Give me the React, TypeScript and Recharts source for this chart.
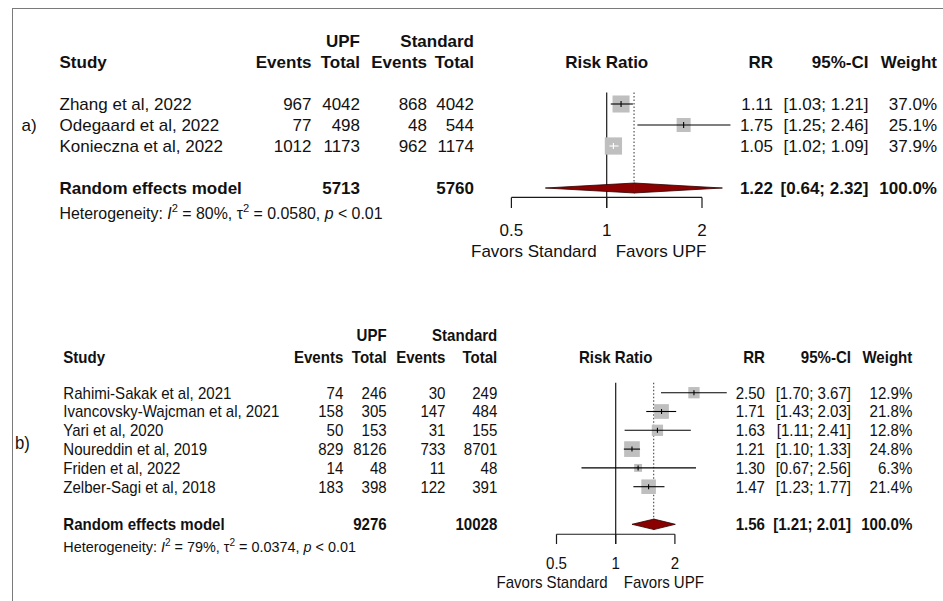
import React from "react";
import { ScatterChart, Scatter, XAxis, YAxis, ReferenceLine, ReferenceDot } from "recharts";

const FONT = "'Liberation Sans', Arial, Helvetica, sans-serif";
const INK = "#111";

// ---------- Panel a data ----------
const studiesA = ["Zhang et al, 2022", "Odegaard et al, 2022", "Konieczna et al, 2022"];
const upfEventsA = [967, 77, 1012];
const upfTotalA = [4042, 498, 1173];
const stdEventsA = [868, 48, 962];
const stdTotalA = [4042, 544, 1174];
const rrA = [1.11, 1.75, 1.05];
const lowerA = [1.03, 1.25, 1.02];
const upperA = [1.21, 2.46, 1.09];
const weightA = [37.0, 25.1, 37.9];
const summaryA = [1.22, 0.64, 2.32]; // RR, lower, upper
const totalsA = [5713, 5760];
const hetA = ["80%", "0.0580", "< 0.01"]; // I2, tau2, p

// ---------- Panel b data ----------
const studiesB = [
  "Rahimi-Sakak et al, 2021",
  "Ivancovsky-Wajcman et al, 2021",
  "Yari et al, 2020",
  "Noureddin et al, 2019",
  "Friden et al, 2022",
  "Zelber-Sagi et al, 2018",
];
const upfEventsB = [74, 158, 50, 829, 14, 183];
const upfTotalB = [246, 305, 153, 8126, 48, 398];
const stdEventsB = [30, 147, 31, 733, 11, 122];
const stdTotalB = [249, 484, 155, 8701, 48, 391];
const rrB = [2.5, 1.71, 1.63, 1.21, 1.3, 1.47];
const lowerB = [1.7, 1.43, 1.11, 1.1, 0.67, 1.23];
const upperB = [3.67, 2.03, 2.41, 1.33, 2.56, 1.77];
const weightB = [12.9, 21.8, 12.8, 24.8, 6.3, 21.4];
const summaryB = [1.56, 1.21, 2.01];
const totalsB = [9276, 10028];
const hetB = ["79%", "0.0374", "< 0.01"];

// ---------- axis ----------
const axisTicks = [0.5, 1, 2];
const tickLabels = ["0.5", "1", "2"];
const favorLabels = ["Favors Standard", "Favors UPF"];
const xDomain = [0.25, 4];

const PANEL_A = {
  tag: "a)",
  studies: studiesA, upfEvents: upfEventsA, upfTotal: upfTotalA, stdEvents: stdEventsA, stdTotal: stdTotalA,
  rr: rrA, lower: lowerA, upper: upperA, weight: weightA, summary: summaryA, totals: totalsA, het: hetA,
  layout: {
    top: 0, height: 300,
    margin: { top: 20, right: 145.7, bottom: 28, left: 416.1 },
    yDomain: [-4, 8],
    fs: 17, hetFs: 15.9, tagFs: 17, sx: 1,
    cols: { tag: 21.5, study: 59.5, upfEv: 311.5, upfTot: 360, stdEv: 427, stdTot: 474, rr: 773, ci: 868.5, wt: 937 },
    rows: { upf: -3, head: -2, summary: 4, het: 5.2, tag: 1, vTop: -0.55, axis: 4.45, tickEnd: 4.95, tickLab: 6.0, favor: 7.0 },
    boxK: 2.8, diamondH: 5, tickH: 6, favorGap: [10, 9],
  },
};

const PANEL_B = {
  tag: "b)",
  studies: studiesB, upfEvents: upfEventsB, upfTotal: upfTotalB, stdEvents: stdEventsB, stdTotal: stdTotalB,
  rr: rrB, lower: lowerB, upper: upperB, weight: weightB, summary: summaryB, totals: totalsB, het: hetB,
  layout: {
    top: 300, height: 301,
    margin: { top: 17.5, right: 208.9, bottom: 1.5, left: 497.3 },
    yDomain: [-4, 11],
    fs: 16.2, hetFs: 15.5, tagFs: 18, sx: 0.93,
    cols: { tag: 15, study: 63.3, upfEv: 343.3, upfTot: 386.7, stdEv: 445.5, stdTot: 497.3, rr: 765, ci: 851, wt: 912.3 },
    rows: { upf: -3.07, head: -1.91, summary: 7, het: 8.19, tag: 2.65, vTop: -0.53, axis: 7.53, tickEnd: 8.05, tickLab: 9.06, favor: 10.07 },
    boxK: 3.15, diamondH: 5.3, tickH: 5, favorGap: [8, 8],
  },
};

const ci = (lo: number, hi: number) => `[${lo.toFixed(2)}; ${hi.toFixed(2)}]`;

type Cell = { t: string; col: string; anchor: "start" | "end" | "middle"; bold?: boolean };

function Txt(props: any) {
  const { x, y, fs, sx, anchor = "start", bold = false, children } = props;
  return (
    <text
      x={x}
      y={y}
      fontSize={fs}
      fontFamily={FONT}
      fill={INK}
      textAnchor={anchor}
      fontWeight={bold ? "bold" : "normal"}
      transform={sx !== 1 ? `translate(${x},0) scale(${sx},1) translate(${-x},0)` : undefined}
    >
      {children}
    </text>
  );
}

function buildRows(S: any) {
  const L = S.layout;
  const c = (t: string, col: string, anchor: "start" | "end" | "middle", bold = false): Cell => ({ t, col, anchor, bold });
  const rows: any[] = [];
  rows.push({ x: 1, y: L.rows.upf, cells: [c("UPF", "upfTot", "end", true), c("Standard", "stdTot", "end", true)] });
  rows.push({
    x: 1, y: L.rows.head,
    cells: [
      c("Study", "study", "start", true), c("Events", "upfEv", "end", true), c("Total", "upfTot", "end", true),
      c("Events", "stdEv", "end", true), c("Total", "stdTot", "end", true), c("Risk Ratio", "center", "middle", true),
      c("RR", "rr", "end", true), c("95%-CI", "ci", "end", true), c("Weight", "wt", "end", true),
    ],
  });
  S.studies.forEach((name: string, i: number) => {
    rows.push({
      x: 1, y: i,
      cells: [
        c(name, "study", "start"), c(String(S.upfEvents[i]), "upfEv", "end"), c(String(S.upfTotal[i]), "upfTot", "end"),
        c(String(S.stdEvents[i]), "stdEv", "end"), c(String(S.stdTotal[i]), "stdTot", "end"),
        c(S.rr[i].toFixed(2), "rr", "end"), c(ci(S.lower[i], S.upper[i]), "ci", "end"), c(`${S.weight[i].toFixed(1)}%`, "wt", "end"),
      ],
    });
  });
  rows.push({
    x: 1, y: L.rows.summary,
    cells: [
      c("Random effects model", "study", "start", true), c(String(S.totals[0]), "upfTot", "end", true), c(String(S.totals[1]), "stdTot", "end", true),
      c(S.summary[0].toFixed(2), "rr", "end", true), c(ci(S.summary[1], S.summary[2]), "ci", "end", true), c("100.0%", "wt", "end", true),
    ],
  });
  rows.push({ x: 1, y: L.rows.tag, tag: S.tag });
  rows.push({ x: 1, y: L.rows.het, het: S.het });
  return rows;
}

function ForestPanel({ spec }: { spec: any }) {
  const S = spec;
  const L = S.layout;
  const side = (w: number) => L.boxK * Math.sqrt(w);
  const squares = S.rr.map((v: number, i: number) => ({ x: v, y: i, w: S.weight[i] }));
  const rows = buildRows(S);
  const tickData = axisTicks.map((t, i) => ({ x: t, y: L.rows.tickLab, label: tickLabels[i] }));
  const txtBase = (cy: number, fs: number) => cy + 0.36 * fs;

  const SquareShape = (p: any) => {
    const s = side(p.payload.w);
    return <rect x={p.cx - s / 2} y={p.cy - s / 2} width={s} height={s} fill="#bfbfbf" />;
  };

  const renderRow = (d: any) => (p: any) => {
    if (d.het) {
      const fs = L.hetFs;
      const sup = fs * 0.42;
      return (
        <Txt x={L.cols.study} y={txtBase(p.cy, fs)} fs={fs} sx={L.sx}>
          <tspan>{"Heterogeneity: "}</tspan>
          <tspan fontStyle="italic">I</tspan>
          <tspan dy={-sup} fontSize={fs * 0.7}>2</tspan>
          <tspan dy={sup}>{` = ${d.het[0]}, \u03c4`}</tspan>
          <tspan dy={-sup} fontSize={fs * 0.7}>2</tspan>
          <tspan dy={sup}>{` = ${d.het[1]}, `}</tspan>
          <tspan fontStyle="italic">p</tspan>
          <tspan>{` ${d.het[2]}`}</tspan>
        </Txt>
      );
    }
    if (d.tag) {
      return (
        <Txt x={L.cols.tag} y={txtBase(p.cy, L.tagFs)} fs={L.tagFs} sx={L.sx}>
          {d.tag}
        </Txt>
      );
    }
    return (
      <g>
        {d.cells.map((cell: Cell, k: number) => (
          <Txt
            key={k}
            x={cell.col === "center" ? p.cx : L.cols[cell.col]}
            y={txtBase(p.cy, L.fs)}
            fs={L.fs}
            sx={L.sx}
            anchor={cell.anchor}
            bold={cell.bold}
          >
            {cell.t}
          </Txt>
        ))}
      </g>
    );
  };

  const tickLabelShape = (label: string) => (p: any) => (
    <Txt x={p.cx} y={txtBase(p.cy, L.fs)} fs={L.fs} sx={L.sx} anchor="middle">
      {label}
    </Txt>
  );

  const favorShape = (p: any) => (
    <g>
      <Txt x={p.cx - L.favorGap[0]} y={txtBase(p.cy, L.fs)} fs={L.fs} sx={L.sx} anchor="end">
        {favorLabels[0]}
      </Txt>
      <Txt x={p.cx + L.favorGap[1]} y={txtBase(p.cy, L.fs)} fs={L.fs} sx={L.sx} anchor="start">
        {favorLabels[1]}
      </Txt>
    </g>
  );

  const ciHalf = (w: number, isLeft: boolean) => (p: any) => {
    const half = side(w) / 2;
    const inside = Math.abs(p.x2 - p.x1) < half;
    const col = inside ? "#ffffff" : "#000000";
    return (
      <g>
        <line x1={p.x1} y1={p.y1} x2={p.x2} y2={p.y2} stroke={col} strokeWidth={1.1} />
        {isLeft ? (
          <line x1={p.x2} y1={p.y2 - L.tickH / 2} x2={p.x2} y2={p.y2 + L.tickH / 2} stroke={col} strokeWidth={1.1} />
        ) : null}
      </g>
    );
  };

  const h = L.diamondH;
  const diamondLeft = (p: any) => (
    <path d={`M${p.x2 + 0.5},${p.y2 - h} L${p.x1},${p.y1} L${p.x2 + 0.5},${p.y2 + h}`} fill="#8b0000" stroke="#2a0000" strokeWidth={0.8} />
  );
  const diamondRight = (p: any) => (
    <path d={`M${p.x1},${p.y1 - h} L${p.x2},${p.y2} L${p.x1},${p.y1 + h}`} fill="#8b0000" stroke="#2a0000" strokeWidth={0.8} />
  );

  const sRow = L.rows.summary;
  const [sEst, sLo, sHi] = S.summary;

  return (
    <div style={{ position: "absolute", left: 0, top: L.top }}>
      <ScatterChart width={943} height={L.height} margin={L.margin}>
        <XAxis type="number" dataKey="x" scale="log" domain={xDomain} allowDataOverflow hide height={0} />
        <YAxis type="number" dataKey="y" domain={L.yDomain} allowDataOverflow reversed hide width={0} />

        <ReferenceLine
          segment={[{ x: 1, y: L.rows.vTop }, { x: 1, y: L.rows.tickEnd }]}
          stroke="#1a1a1a" strokeWidth={1.2} ifOverflow="visible"
        />
        <ReferenceLine
          segment={[{ x: sEst, y: L.rows.vTop }, { x: sEst, y: sRow }]}
          stroke="#444" strokeWidth={1.1} strokeDasharray="1.5 2" ifOverflow="visible"
        />
        <ReferenceLine
          segment={[{ x: axisTicks[0], y: L.rows.axis }, { x: axisTicks[axisTicks.length - 1], y: L.rows.axis }]}
          stroke="#1a1a1a" strokeWidth={1.2} ifOverflow="visible"
        />
        {axisTicks.map((t) => (
          <ReferenceLine
            key={`tick-${t}`}
            segment={[{ x: t, y: L.rows.axis }, { x: t, y: L.rows.tickEnd }]}
            stroke="#1a1a1a" strokeWidth={1.2} ifOverflow="visible"
          />
        ))}

        <Scatter data={squares} shape={SquareShape} isAnimationActive={false} />

        {S.rr.map((v: number, i: number) => (
          <ReferenceLine
            key={`cil-${i}`}
            segment={[{ x: S.lower[i], y: i }, { x: v, y: i }]}
            ifOverflow="visible"
            zIndex={700}
            shape={ciHalf(S.weight[i], true)}
          />
        ))}
        {S.rr.map((v: number, i: number) => (
          <ReferenceLine
            key={`cir-${i}`}
            segment={[{ x: v, y: i }, { x: S.upper[i], y: i }]}
            ifOverflow="visible"
            zIndex={700}
            shape={ciHalf(S.weight[i], false)}
          />
        ))}

        <ReferenceLine segment={[{ x: sLo, y: sRow }, { x: sEst, y: sRow }]} ifOverflow="visible" zIndex={700} shape={diamondLeft} />
        <ReferenceLine segment={[{ x: sEst, y: sRow }, { x: sHi, y: sRow }]} ifOverflow="visible" zIndex={700} shape={diamondRight} />

        {rows.map((d: any, k: number) => (
          <ReferenceDot key={`row-${k}`} x={d.x} y={d.y} r={1} ifOverflow="visible" shape={renderRow(d)} />
        ))}
        {tickData.map((d) => (
          <ReferenceDot key={`tl-${d.x}`} x={d.x} y={d.y} r={1} ifOverflow="visible" shape={tickLabelShape(d.label)} />
        ))}
        <ReferenceDot x={1} y={L.rows.favor} r={1} ifOverflow="visible" shape={favorShape} />
      </ScatterChart>
    </div>
  );
}

export default function App() {
  return (
    <div style={{ position: "absolute", left: 0, top: 0, width: 943, height: 601, background: "#fff", overflow: "hidden" }}>
      <div
        style={{
          position: "absolute", left: 12, top: 8, width: 931, height: 593,
          borderTop: "1px solid #7a7a7a", borderLeft: "1px solid #7a7a7a", boxSizing: "border-box",
        }}
      />
      <ForestPanel spec={PANEL_A} />
      <ForestPanel spec={PANEL_B} />
    </div>
  );
}
